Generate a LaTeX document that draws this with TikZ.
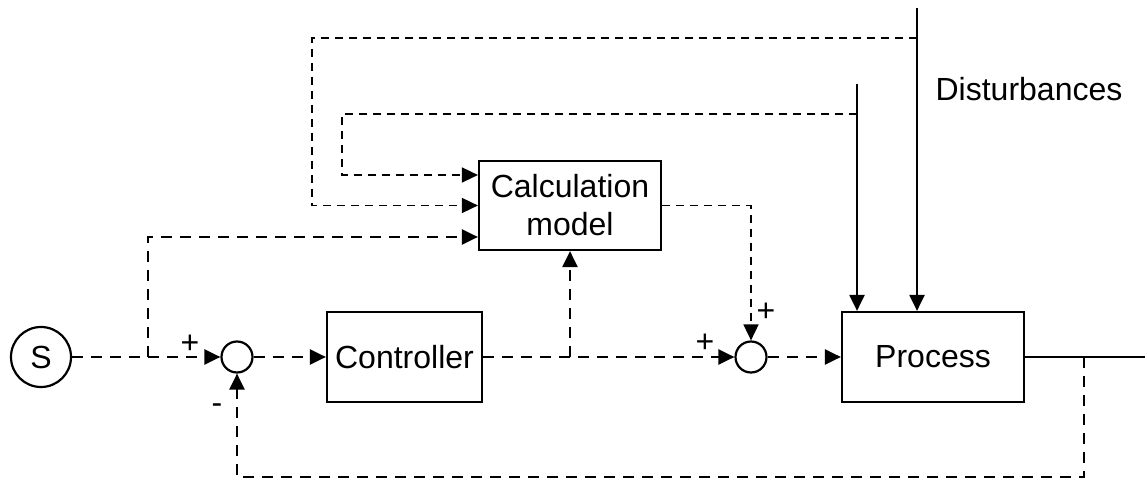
\documentclass[tikz,border=0pt]{standalone}
\usepackage{fontspec}
\setmainfont{Liberation Sans}
\usetikzlibrary{arrows.meta}

\begin{document}
\begin{tikzpicture}[>={Triangle[length=8pt,width=7.5pt]},auto,node distance=90pt,
      line width=1.1pt,font=\fontsize{16}{19}\selectfont,
      block/.style={rectangle,draw,minimum width=91pt,minimum height=45pt,align=center},
      sum node/.style={circle,draw,minimum size=15.5pt,inner sep=0pt},
      sig/.style={line width=1.25pt,dash pattern=on 5.5pt off 4pt},
      info/.style={line width=0.85pt,dash pattern=on 4pt off 3pt}]

    \useasboundingbox (0,0) rectangle (572.5pt,-240pt);

    \node[sum node,minimum size=30pt] (S) at (20.5pt,-178.5pt) {S};
    \node[sum node] (J1) [right of=S,node distance=98pt] {};
    \node[block,minimum width=77.5pt] (ctrl) [right of=J1,node distance=83.75pt] {Controller};
    \coordinate[right of=S,node distance=53.5pt] (br1);
    \coordinate[right of=ctrl,node distance=82.75pt] (br2);
    \node[block,minimum height=44.5pt] (calc) [above of=br2,node distance=75.75pt] {Calculation\\model};
    \node[sum node] (J2) [right of=ctrl,node distance=173.25pt] {};
    \node[block] (proc) [right of=J2,node distance=91pt] {Process};
    \coordinate[right of=proc,node distance=106pt] (out);
    \coordinate[right of=proc,node distance=75.5pt] (fbr);
    \coordinate (fbot) at ([yshift=-60pt]fbr);

    % disturbances
    \coordinate (d1) at ([xshift=-8pt,yshift=151.5pt]proc.north);
    \coordinate (d2) at ([xshift=-38pt,yshift=113.5pt]proc.north);
    \coordinate (t1) at ([yshift=-15pt]d1);
    \coordinate (t2) at ([yshift=-15pt]d2);
    \coordinate (l1) at ([xshift=-83pt]calc.west);
    \coordinate (l2) at ([xshift=-68pt,yshift=15.25pt]calc.west);
    \node (dist) at ([xshift=56pt,yshift=-40.5pt]d1) {Disturbances};

    % signs
    \node (p1) at ([xshift=-23.5pt,yshift=6.5pt]J1) {+};
    \node (m1) at ([xshift=-10pt,yshift=-26pt]J1) {-};
    \node (p2) at ([xshift=-23pt,yshift=7pt]J2) {+};
    \node (p3) at ([xshift=7.5pt,yshift=22.5pt]J2) {+};

    \path[sig]
    (S) edge[->] (J1)
    (J1) edge[->] (ctrl)
    (ctrl) edge[->] (J2)
    (J2) edge[->] (proc)
    (br2) edge[->] (calc);

    \draw (proc) -- (out);
    \draw[->] (d1) -- (d1 |- proc.north);
    \draw[->] (d2) -- (d2 |- proc.north);

    \draw[sig,->] (br1) |- ([yshift=-15.75pt]calc.west);
    \draw[sig,->] (fbr) -- (fbot) -| (J1.south);
    \draw[info,->] (t1) -| (l1) -- (calc.west);
    \draw[info,->] (t2) -| (l2) -- ([yshift=15.25pt]calc.west);
    \draw[info,->] (calc.east) -| (J2.north);
  \end{tikzpicture}
\end{document}
